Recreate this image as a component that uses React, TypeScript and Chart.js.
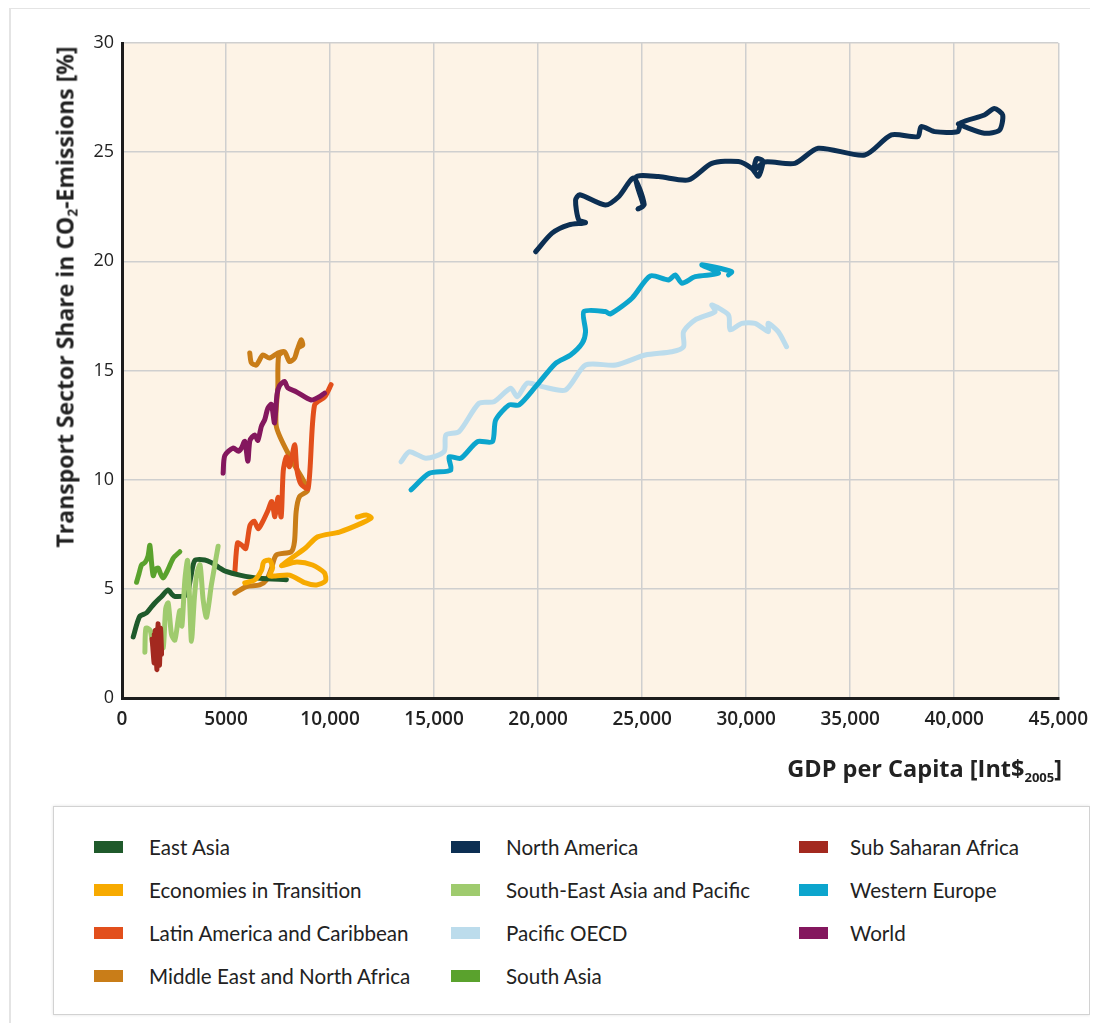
import React, { useEffect, useRef } from "react";
import { Chart, registerables } from "chart.js";

Chart.register(...registerables);

// Axis ticks
const xTickValues = [0, 5000, 10000, 15000, 20000, 25000, 30000, 35000, 40000, 45000];
const xTickLabels = ["0", "5000", "10,000", "15,000", "20,000", "25,000", "30,000", "35,000", "40,000", "45,000"];
const yTickValues = [0, 5, 10, 15, 20, 25, 30];

type Pt = [number, number]; // [GDP per capita, transport share %]

const eastAsia: Pt[] = [
  [540, 2.8], [750, 3.5], [860, 3.75], [1180, 3.9], [1400, 4.15], [1580, 4.35], [1900, 4.65],
  [2220, 4.95], [2400, 4.75], [2540, 4.65], [3100, 4.72], [3300, 5.5], [3500, 6.3], [3980, 6.32],
  [4300, 6.2], [4620, 6.0], [5000, 5.8], [5660, 5.63], [6620, 5.48], [7900, 5.42],
];

const economiesInTransition: Pt[] = [
  [5900, 5.27], [6380, 5.41], [6710, 5.86], [6810, 6.23], [7090, 6.32], [7240, 5.96], [7090, 5.59],
  [7380, 5.59], [8050, 5.63], [8820, 5.27], [9350, 5.18], [9780, 5.36], [9730, 5.73], [9160, 6.09],
  [8390, 6.23], [7670, 6.05], [8150, 6.41], [8820, 6.87], [9400, 7.38], [10450, 7.6], [11550, 8.02],
  [11980, 8.25], [11740, 8.38], [11310, 8.29],
];

const latinAmerica: Pt[] = [
  [5420, 5.7], [5550, 7.1], [5750, 7.0], [5950, 6.85], [6150, 7.9], [6350, 8.1], [6550, 7.75],
  [6800, 8.15], [7000, 8.55], [7200, 9.0], [7350, 8.3], [7500, 9.2], [7650, 8.3], [7750, 10.4],
  [7900, 11.05], [8050, 10.6], [8300, 11.6], [8400, 10.5], [8600, 9.8], [8950, 9.6], [9250, 13.4],
  [9750, 13.8], [10050, 14.35],
];

const middleEast: Pt[] = [
  [6140, 15.8], [6220, 15.35], [6460, 15.25], [6770, 15.71], [7090, 15.57], [7490, 15.8],
  [7810, 15.86], [8050, 15.41], [8290, 15.56], [8450, 16.02], [8610, 16.4], [8690, 16.17],
  [8450, 16.02], [8290, 15.56], [8050, 15.41], [7810, 15.86], [7530, 15.67], [7490, 14.26],
  [7420, 12.43], [8150, 10.9], [8930, 9.53], [8530, 9.22], [8370, 8.53], [8290, 7.16],
  [8130, 6.7], [7420, 6.55], [7180, 5.94], [6940, 5.4], [6620, 5.18], [5980, 5.1], [5420, 4.8],
];

const northAmerica: Pt[] = [
  [19880, 20.44], [20670, 21.29], [21480, 21.67], [22280, 21.77], [21950, 21.9], [21800, 22.8],
  [22000, 23.05], [23230, 22.58], [23870, 22.96], [24590, 23.81], [25100, 22.6], [24800, 22.4],
  [25050, 22.55], [24700, 23.85], [25790, 23.88], [27230, 23.73], [28350, 24.49], [29630, 24.57],
  [30260, 24.26], [30590, 23.9], [30800, 24.6], [30500, 24.7], [30400, 24.2], [30900, 24.55],
  [32340, 24.49], [33460, 25.18], [35700, 24.87], [36980, 25.79], [38250, 25.71], [38410, 26.17],
  [39050, 25.94], [40170, 25.94], [40330, 26.35], [41450, 26.7], [41930, 27.0], [42330, 26.7],
  [42170, 26.0], [41450, 25.87], [40490, 26.17], [40200, 26.3],
];

const southEastAsia: Pt[] = [
  [1100, 2.1], [1150, 3.2], [1350, 3.1], [1500, 2.4], [1650, 2.6], [1800, 3.0], [1980, 2.3],
  [2100, 4.1], [2220, 4.35], [2380, 2.9], [2540, 2.65], [2700, 3.6], [2780, 4.0], [2880, 3.3],
  [3020, 5.4], [3150, 6.3], [3250, 4.5], [3340, 2.6], [3480, 4.6], [3600, 5.7], [3750, 6.1],
  [3900, 4.5], [4060, 3.7], [4300, 5.2], [4620, 6.95],
];

const pacificOecd: Pt[] = [
  [13410, 10.82], [13810, 11.28], [14610, 10.98], [15480, 11.28], [15570, 12.05], [16200, 12.2],
  [17160, 13.5], [17880, 13.57], [18680, 14.19], [19000, 13.8], [19480, 14.42], [20200, 14.26],
  [21320, 14.11], [22280, 15.25], [23730, 15.25], [25150, 15.71], [26430, 15.86], [26990, 16.09],
  [26990, 16.78], [27550, 17.32], [28510, 17.7], [28350, 18.0], [29150, 17.54], [29230, 16.86],
  [29790, 17.16], [30430, 17.16], [31060, 16.78], [31060, 17.16], [31540, 16.78], [31940, 16.09],
];

const southAsia: Pt[] = [
  [700, 5.3], [820, 5.7], [940, 6.1], [1100, 6.2], [1250, 6.5], [1340, 7.0], [1420, 6.2],
  [1500, 5.6], [1620, 5.9], [1740, 5.95], [1850, 5.7], [1980, 5.5], [2220, 5.9], [2460, 6.4],
  [2780, 6.7],
];

const subSaharanAfrica: Pt[] = [
  [1450, 2.7], [1550, 1.6], [1600, 3.1], [1680, 1.3], [1730, 3.4], [1800, 1.5], [1850, 3.2],
  [1900, 2.0], [1820, 2.6], [1650, 2.2], [1550, 2.9],
];

const westernEurope: Pt[] = [
  [13890, 9.53], [14770, 10.29], [15800, 10.44], [15720, 11.05], [16280, 10.98], [17080, 11.74],
  [17800, 11.74], [17960, 12.73], [18600, 13.42], [19080, 13.42], [19880, 14.26], [20840, 15.33],
  [21560, 15.71], [22120, 16.25], [22280, 16.78], [22200, 17.7], [23230, 17.7], [23470, 17.59],
  [24510, 18.31], [25390, 19.33], [26270, 19.15], [26590, 19.38], [26910, 19.0], [27550, 19.3],
  [28670, 19.45], [27870, 19.84], [29300, 19.53], [29150, 19.38],
];

const world: Pt[] = [
  [4860, 10.3], [4940, 11.1], [5340, 11.45], [5600, 11.3], [5740, 11.45], [5900, 11.75],
  [6050, 10.85], [6150, 11.8], [6380, 12.05], [6530, 11.8], [6700, 12.45], [6860, 12.75],
  [7010, 13.27], [7180, 13.45], [7330, 12.6], [7450, 13.9], [7570, 14.3], [7810, 14.5],
  [7970, 14.2], [8370, 14.03], [9090, 13.65], [9490, 13.8], [9730, 13.96],
];

// Legend order / names / colours, and drawing order (lower = drawn on top)
const seriesNames = [
  "East Asia", "Economies in Transition", "Latin America and Caribbean", "Middle East and North Africa",
  "North America", "South-East Asia and Pacific", "Pacific OECD", "South Asia",
  "Sub Saharan Africa", "Western Europe", "World",
];
const seriesColors = [
  "#1f5a2b", "#f7aa00", "#e24f1c", "#c97d18",
  "#0c2f53", "#9fcb6e", "#bcdcec", "#5aa22d",
  "#a3291f", "#0ca5cd", "#84175e",
];
const seriesData: Pt[][] = [
  eastAsia, economiesInTransition, latinAmerica, middleEast,
  northAmerica, southEastAsia, pacificOecd, southAsia,
  subSaharanAfrica, westernEurope, world,
];
const drawOrder = [5, 4, 6, 7, 3, 2, 9, 8, 1, 8, 3];

const plotBackground = {
  id: "plotBackground",
  beforeDraw(chart: any) {
    const { ctx, chartArea: a } = chart;
    ctx.save();
    ctx.fillStyle = "#fdf3e6";
    ctx.fillRect(a.left, a.top, a.right - a.left, a.bottom - a.top);
    ctx.restore();
  },
};

const CANVAS_W = 1090;
const CANVAS_H = 760;

function TransportChart() {
  const ref = useRef<HTMLCanvasElement | null>(null);

  useEffect(() => {
    if (!ref.current) return;
    const chart = new Chart(ref.current, {
      type: "scatter",
      data: {
        datasets: seriesNames.map((name, i) => ({
          label: name,
          data: seriesData[i].map(([x, y]) => ({ x, y })),
          borderColor: seriesColors[i],
          backgroundColor: seriesColors[i],
          showLine: true,
          pointRadius: 0,
          pointHoverRadius: 0,
          borderWidth: 5,
          tension: 0.25,
          borderCapStyle: "round",
          borderJoinStyle: "round",
          order: drawOrder[i],
        })),
      },
      plugins: [plotBackground],
      options: {
        responsive: false,
        animation: false,
        devicePixelRatio: 1,
        layout: { padding: { left: 0, top: 35, right: 36, bottom: 0 } },
        plugins: {
          legend: { display: false },
          tooltip: { enabled: false },
        },
        scales: {
          x: {
            type: "linear",
            min: 0,
            max: 45000,
            afterBuildTicks: (scale: any) => {
              scale.ticks = xTickValues.map((value) => ({ value }));
            },
            afterFit: (scale: any) => {
              scale.height = CANVAS_H - 690;
            },
            ticks: {
              autoSkip: false,
              maxRotation: 0,
              padding: 10,
              color: "#222",
              font: { family: "'Open Sans'", size: 19, weight: "600" },
              callback: (v: any) => {
                const i = xTickValues.indexOf(Number(v));
                return i >= 0 ? xTickLabels[i] : "";
              },
            },
            grid: { color: "#cfcfcf", lineWidth: 1.5, drawTicks: false },
            border: { color: "#1c1c1c", width: 3 },
          },
          y: {
            type: "linear",
            min: 0,
            max: 30,
            afterBuildTicks: (scale: any) => {
              scale.ticks = yTickValues.map((value) => ({ value }));
            },
            afterFit: (scale: any) => {
              scale.width = 114;
            },
            ticks: {
              padding: 8,
              color: "#222",
              font: { family: "'Open Sans'", size: 18, weight: "400" },
            },
            grid: { color: "#cfcfcf", lineWidth: 1.5, drawTicks: false },
            border: { color: "#1c1c1c", width: 3 },
          },
        },
      } as any,
    });
    return () => chart.destroy();
  }, []);

  return (
    <canvas
      ref={ref}
      width={CANVAS_W}
      height={CANVAS_H}
      style={{ position: "absolute", left: 0, top: 0, width: CANVAS_W, height: CANVAS_H }}
    />
  );
}

// Legend placement: [column, row]
const legendSlots: [number, number][] = [
  [0, 0], [0, 1], [0, 2], [0, 3],
  [1, 0], [1, 1], [1, 2], [1, 3],
  [2, 0], [2, 1], [2, 2],
];
const legendSwatchX = [40, 397, 745];
const legendTextX = [95, 452, 796];
const legendRowY = [40, 83, 126, 169];

function Legend() {
  return (
    <div
      style={{
        position: "absolute",
        left: 45,
        top: 798,
        width: 1035,
        height: 207,
        border: "1.5px solid #d2d2d2",
        boxShadow: "0 0 3px rgba(0,0,0,0.12)",
        background: "#fff",
      }}
    >
      {seriesNames.map((name, i) => {
        const [c, r] = legendSlots[i];
        return (
          <React.Fragment key={name}>
            <div
              style={{
                position: "absolute",
                left: legendSwatchX[c],
                top: legendRowY[r] - 6,
                width: 29,
                height: 12,
                background: seriesColors[i],
              }}
            />
            <div
              style={{
                position: "absolute",
                left: legendTextX[c],
                top: legendRowY[r] - 13,
                height: 26,
                lineHeight: "26px",
                fontFamily: "Lato, sans-serif",
                fontSize: 20.6,
                color: "#222",
                whiteSpace: "nowrap",
              }}
            >
              {name}
            </div>
          </React.Fragment>
        );
      })}
    </div>
  );
}

export default function App() {
  return (
    <div style={{ position: "relative", width: 1090, height: 1015, fontFamily: "'Open Sans', sans-serif" }}>
      <div
        style={{
          position: "absolute",
          left: 1,
          top: -1,
          width: 1095,
          height: 1030,
          borderTop: "2px solid #e4e4e4",
          borderLeft: "2px solid #e4e4e4",
          boxSizing: "border-box",
        }}
      />
      <TransportChart />
      <div
        style={{
          position: "absolute",
          left: 57,
          top: 289,
          transform: "translate(-50%, -50%) rotate(-90deg)",
          whiteSpace: "nowrap",
          fontWeight: 700,
          fontSize: 23,
          color: "#222",
        }}
      >
        Transport Sector Share in CO<sub style={{ fontSize: 13.5, verticalAlign: "-4px" }}>2</sub>-Emissions [%]
      </div>
      <div
        style={{
          position: "absolute",
          right: 36,
          top: 744,
          whiteSpace: "nowrap",
          fontWeight: 700,
          fontSize: 23.5,
          color: "#222",
        }}
      >
        GDP per Capita [Int$<sub style={{ fontSize: 13, verticalAlign: "-5px" }}>2005</sub>]
      </div>
      <Legend />
    </div>
  );
}
